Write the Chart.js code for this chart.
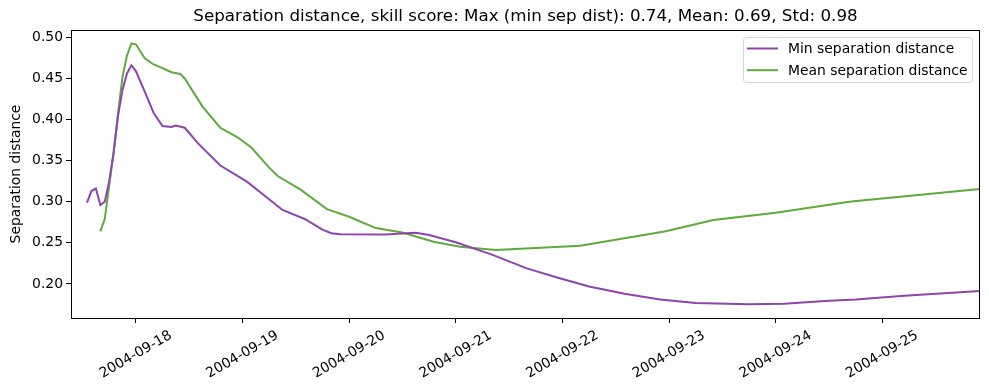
<!DOCTYPE html>
<html>
<head>
<meta charset="utf-8">
<script src="https://cdn.jsdelivr.net/npm/chart.js@4.4.0/dist/chart.umd.min.js"></script>
<style>
  html, body { margin: 0; padding: 0; background: #fff; }
</style>
</head>
<body>
<canvas id="myChart" width="989" height="390"></canvas>
<script>
// Values
const chartTitle = 'Separation distance, skill score: Max (min sep dist): 0.74, Mean: 0.69, Std: 0.98';

const minTimes = [
    '2004-09-17 13:00', '2004-09-17 14:00', '2004-09-17 15:00', '2004-09-17 16:00',
    '2004-09-17 17:00', '2004-09-17 18:00', '2004-09-17 19:00', '2004-09-17 20:00',
    '2004-09-17 21:00', '2004-09-17 22:00', '2004-09-17 23:00', '2004-09-18 00:00',
    '2004-09-18 02:00', '2004-09-18 04:00', '2004-09-18 06:00', '2004-09-18 08:00',
    '2004-09-18 09:00', '2004-09-18 11:00', '2004-09-18 14:00', '2004-09-18 19:00',
    '2004-09-19 01:00', '2004-09-19 09:00', '2004-09-19 14:00', '2004-09-19 18:00',
    '2004-09-19 20:00', '2004-09-19 22:00', '2004-09-20 08:00', '2004-09-20 15:00',
    '2004-09-20 18:00', '2004-09-21 00:00', '2004-09-21 08:00', '2004-09-21 16:00',
    '2004-09-21 23:00', '2004-09-22 06:00', '2004-09-22 14:00', '2004-09-22 22:00',
    '2004-09-23 06:00', '2004-09-23 18:00', '2004-09-24 02:00', '2004-09-24 11:00',
    '2004-09-24 18:00', '2004-09-25 05:00', '2004-09-25 22:00'
];
const minValues = [
    0.299, 0.313, 0.316, 0.296,
    0.300, 0.325, 0.360, 0.405,
    0.436, 0.456, 0.466, 0.459,
    0.434, 0.408, 0.392, 0.391,
    0.3926, 0.390, 0.371, 0.344,
    0.3245, 0.290, 0.279, 0.266,
    0.2617, 0.2605, 0.2603, 0.2624,
    0.2596, 0.2507, 0.236, 0.219,
    0.2075, 0.197, 0.188, 0.181,
    0.1767, 0.1753, 0.176, 0.1793,
    0.1812, 0.1857, 0.1913
];

const meanTimes = [
    '2004-09-17 16:00', '2004-09-17 17:00', '2004-09-17 18:00', '2004-09-17 19:00',
    '2004-09-17 20:00', '2004-09-17 21:00', '2004-09-17 22:00', '2004-09-17 23:00',
    '2004-09-18 00:00', '2004-09-18 02:00', '2004-09-18 04:00', '2004-09-18 06:00',
    '2004-09-18 08:00', '2004-09-18 10:00', '2004-09-18 11:00', '2004-09-18 15:00',
    '2004-09-18 19:00', '2004-09-18 23:00', '2004-09-19 02:00', '2004-09-19 06:00',
    '2004-09-19 08:00', '2004-09-19 13:00', '2004-09-19 19:00', '2004-09-20 00:00',
    '2004-09-20 06:00', '2004-09-20 12:00', '2004-09-20 19:00', '2004-09-21 01:00',
    '2004-09-21 09:00', '2004-09-22 04:00', '2004-09-22 23:00', '2004-09-23 10:00',
    '2004-09-24 00:00', '2004-09-24 17:00', '2004-09-25 22:00'
];
const meanValues = [
    0.264, 0.279, 0.320, 0.360,
    0.408, 0.452, 0.478, 0.4925,
    0.4915, 0.4745, 0.467, 0.4625,
    0.4575, 0.4555, 0.450, 0.4157,
    0.390, 0.378, 0.366, 0.3415,
    0.331, 0.315, 0.291, 0.2818,
    0.268, 0.2625, 0.2513, 0.2453,
    0.2413, 0.2466, 0.2638, 0.2779,
    0.2867, 0.3002, 0.3156
];

const xTickLabels = ['2004-09-18', '2004-09-19', '2004-09-20', '2004-09-21',
                     '2004-09-22', '2004-09-23', '2004-09-24', '2004-09-25'];
const yTickValues = [0.20, 0.25, 0.30, 0.35, 0.40, 0.45, 0.50];

const FONT = 'DejaVu Sans';

// hours since 2004-09-18 00:00
function toHours(s) {
    const [d, t] = s.split(' ');
    const day = parseInt(d.split('-')[2], 10);
    const hm = (t || '00:00').split(':');
    return (day - 18) * 24 + parseInt(hm[0], 10) + parseInt(hm[1], 10) / 60;
}

function toPoints(times, values) {
    return times.map((t, i) => ({ x: toHours(t), y: values[i] }));
}

// Title, frame, rotated date labels and legend in matplotlib style
const decorPlugin = {
    id: 'decor',
    afterDraw(chart) {
        const ctx = chart.ctx;
        const ca = chart.chartArea;
        ctx.save();

        // title
        ctx.fillStyle = '#000';
        ctx.font = `16.7px "${FONT}"`;
        ctx.textAlign = 'center';
        ctx.textBaseline = 'alphabetic';
        ctx.fillText(chartTitle, (ca.left + ca.right) / 2, 21);

        // frame
        ctx.strokeStyle = '#000';
        ctx.lineWidth = 1;
        ctx.strokeRect(Math.round(ca.left) + 0.5, Math.round(ca.top) + 0.5,
                       Math.round(ca.right - ca.left) - 1, Math.round(ca.bottom - ca.top));

        // x tick labels, rotated 30 degrees and centered under the tick
        const xs = chart.scales.x;
        ctx.font = `13.9px "${FONT}"`;
        ctx.textAlign = 'center';
        ctx.textBaseline = 'middle';
        const ang = Math.PI / 6;
        xTickLabels.forEach(lbl => {
            const px = xs.getPixelForValue(toHours(lbl + ' 00:00'));
            const w = ctx.measureText(lbl).width;
            const h = 15;
            const vExt = w * Math.sin(ang) + h * Math.cos(ang);
            const cy = ca.bottom + 10 + vExt / 2;
            ctx.save();
            ctx.translate(px, cy);
            ctx.rotate(-ang);
            ctx.fillText(lbl, 0, 0);
            ctx.restore();
        });

        // legend
        const lx = 743.5, ly = 37.5, lw = 229, lh = 45;
        ctx.beginPath();
        ctx.roundRect(lx, ly, lw, lh, 3);
        ctx.fillStyle = 'rgba(255,255,255,0.8)';
        ctx.fill();
        ctx.strokeStyle = '#d6d6d6';
        ctx.stroke();
        ctx.font = `13.9px "${FONT}"`;
        ctx.textAlign = 'left';
        ctx.textBaseline = 'middle';
        chart.data.datasets.forEach((ds, i) => {
            const y = 48.5 + i * 21.7;
            ctx.strokeStyle = ds.borderColor;
            ctx.lineWidth = 2;
            ctx.beginPath();
            ctx.moveTo(747, y);
            ctx.lineTo(778, y);
            ctx.stroke();
            ctx.fillStyle = '#000';
            ctx.fillText(ds.label, 788, y + 1);
        });

        ctx.restore();
    }
};

const config = {
    type: 'line',
    data: {
        datasets: [{
            label: 'Min separation distance',
            data: toPoints(minTimes, minValues),
            borderColor: '#8e44ad',
            borderWidth: 2,
            pointRadius: 0,
            tension: 0,
            fill: false
        }, {
            label: 'Mean separation distance',
            data: toPoints(meanTimes, meanValues),
            borderColor: '#5dab3c',
            borderWidth: 2,
            pointRadius: 0,
            tension: 0,
            fill: false
        }]
    },
    options: {
        responsive: false,
        animation: false,
        devicePixelRatio: 1,
        layout: {
            padding: { top: 30, right: 9, left: 0, bottom: 0 }
        },
        plugins: {
            legend: { display: false },
            title: { display: false },
            tooltip: { enabled: false }
        },
        scales: {
            x: {
                type: 'linear',
                min: -14.6,
                max: 190,
                afterBuildTicks: axis => {
                    axis.ticks = xTickLabels.map(l => ({ value: toHours(l + ' 00:00') }));
                },
                afterFit: axis => { axis.height = 72; },
                ticks: { display: false },
                grid: {
                    drawOnChartArea: false,
                    drawTicks: true,
                    tickLength: 5,
                    color: '#000'
                },
                border: { display: false }
            },
            y: {
                min: 0.1586,
                max: 0.5089,
                afterBuildTicks: axis => {
                    axis.ticks = yTickValues.map(v => ({ value: v }));
                },
                afterFit: axis => { axis.width = 71; },
                ticks: {
                    callback: v => v.toFixed(2),
                    color: '#000',
                    padding: 3,
                    font: { family: FONT, size: 13.9 }
                },
                grid: {
                    drawOnChartArea: false,
                    drawTicks: true,
                    tickLength: 5,
                    color: '#000'
                },
                border: { display: false },
                title: {
                    display: true,
                    text: 'Separation distance',
                    color: '#000',
                    font: { family: FONT, size: 13.9 },
                    padding: { top: 8, bottom: 0 }
                }
            }
        }
    },
    plugins: [decorPlugin]
};

window.myChart = new Chart(document.getElementById('myChart'), config);
</script>
</body>
</html>
